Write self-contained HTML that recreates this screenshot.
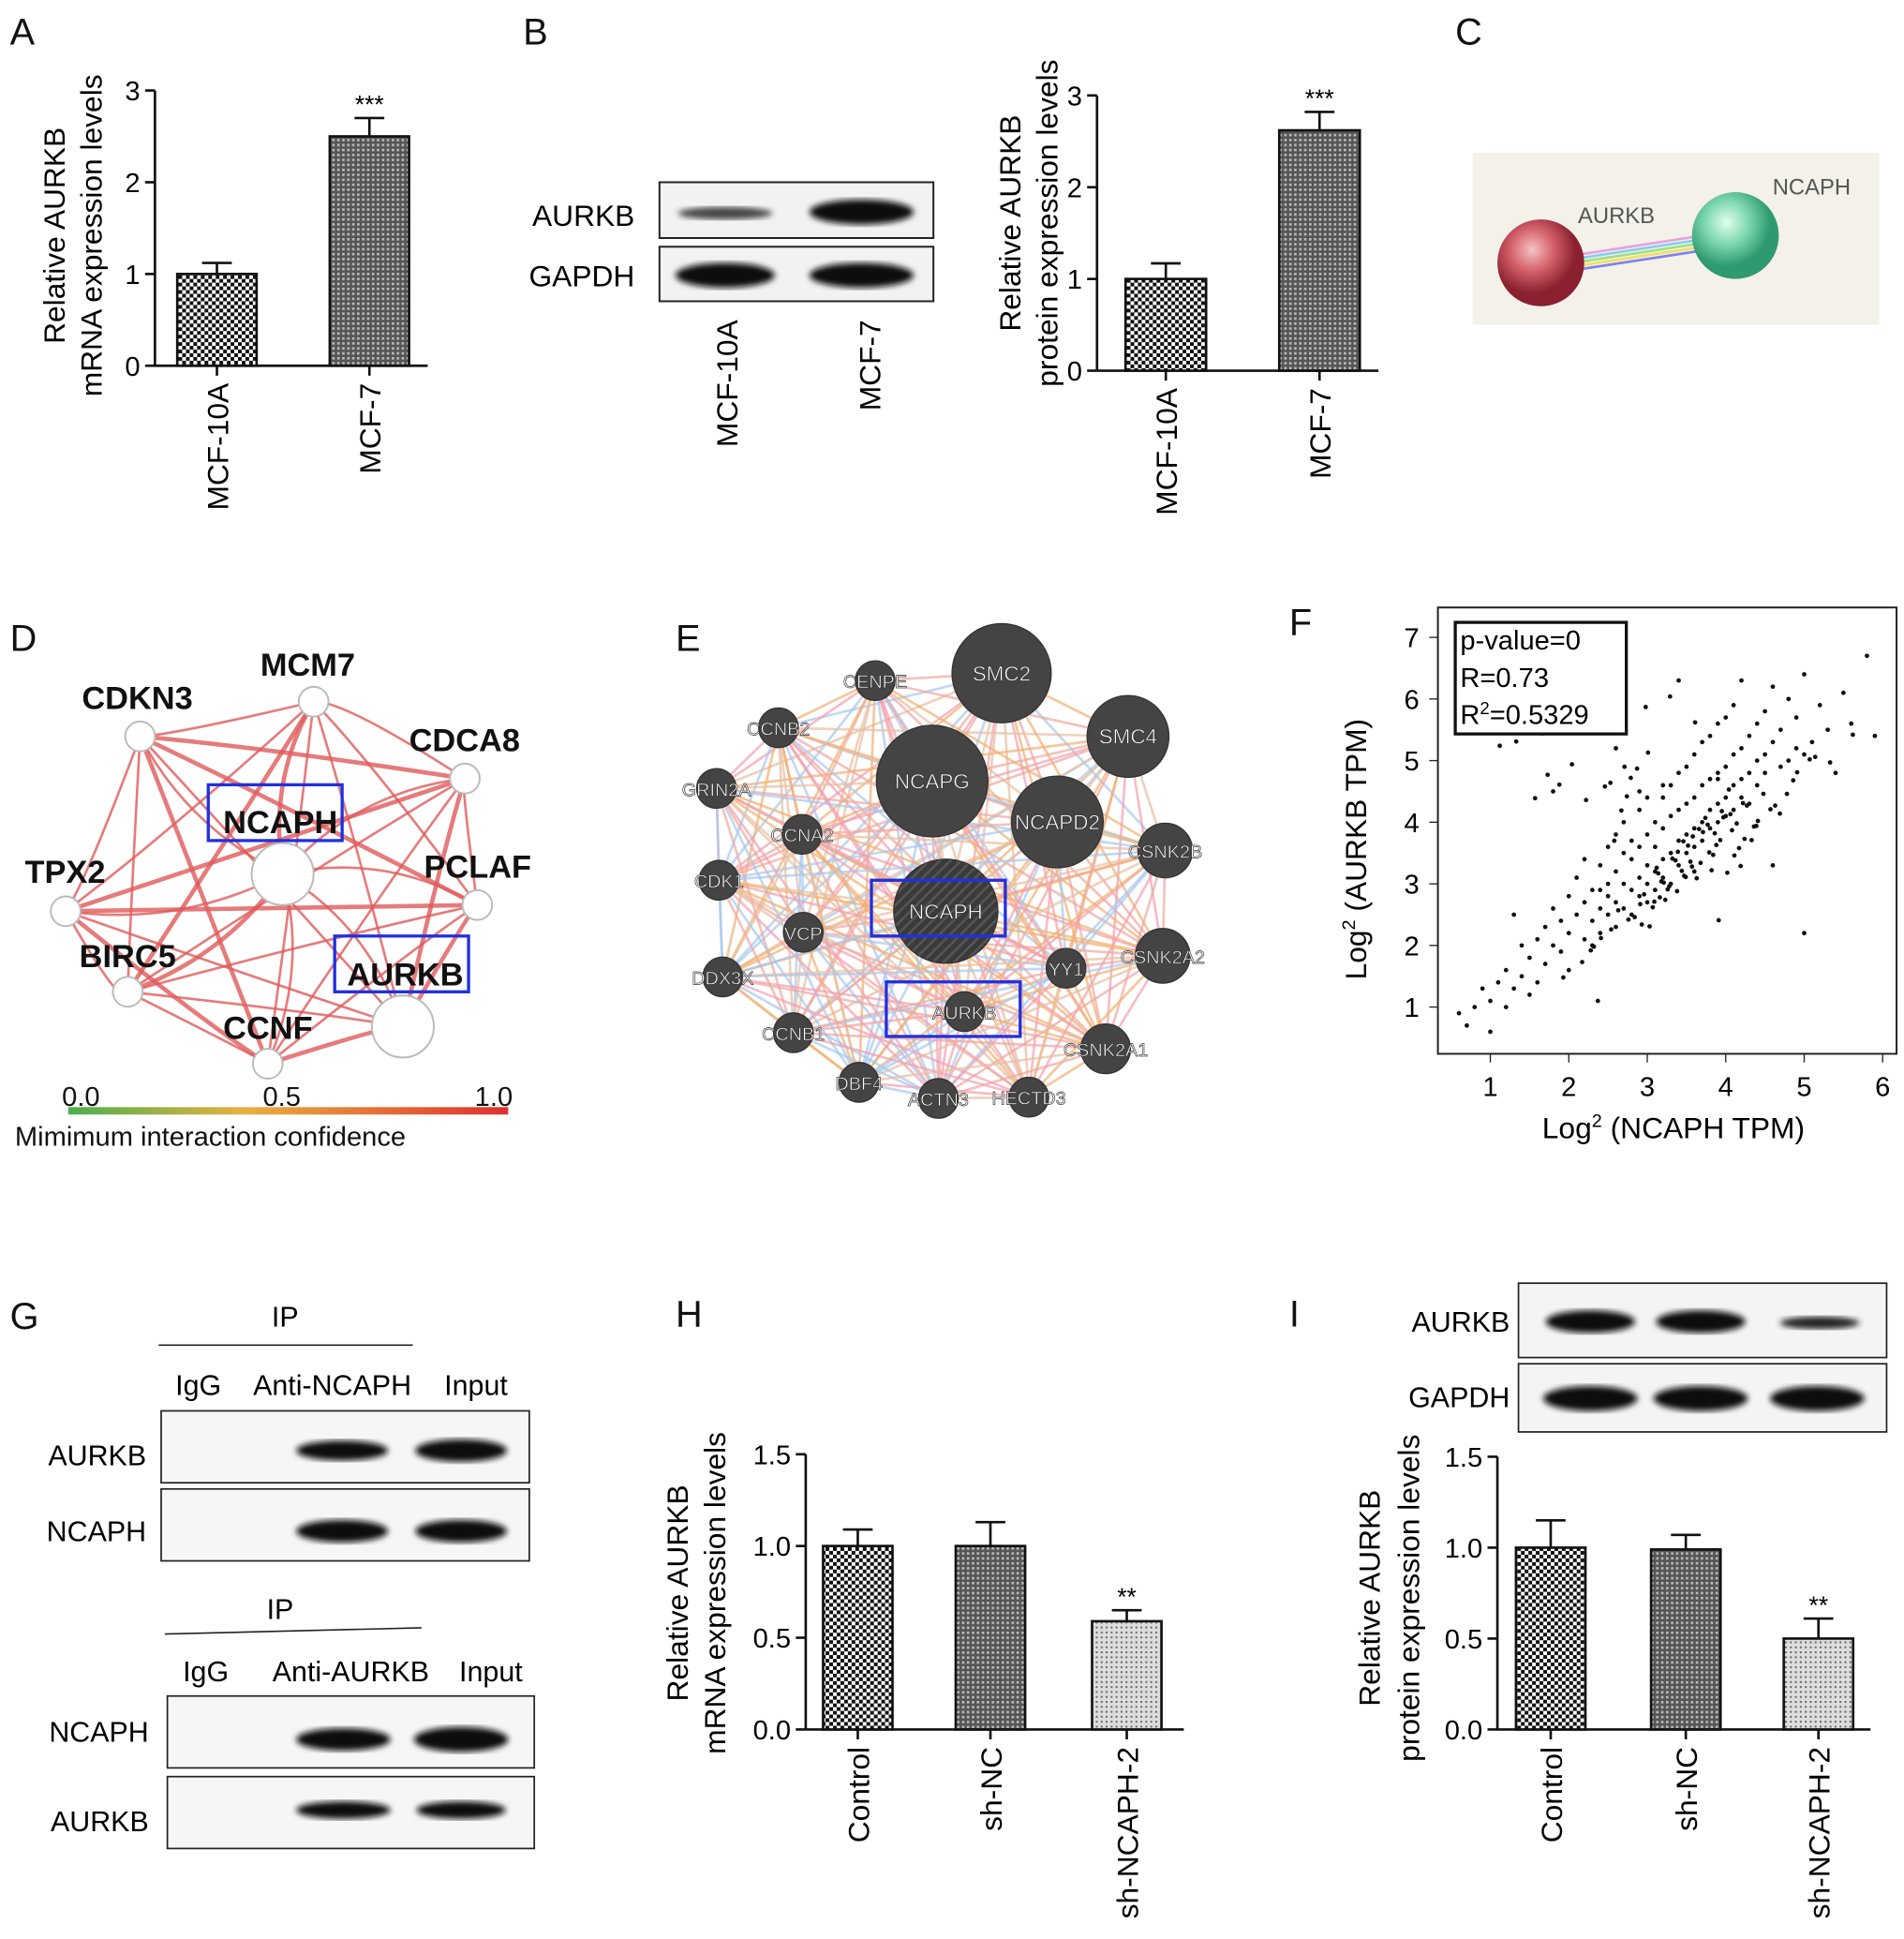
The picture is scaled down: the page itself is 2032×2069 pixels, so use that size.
<!DOCTYPE html>
<html><head><meta charset="utf-8"><style>
html,body{margin:0;padding:0;background:#fff;}
svg{display:block;font-family:"Liberation Sans",Arial,sans-serif;}
</style></head><body>
<svg id="fig" width="2032" height="2069" viewBox="0 0 1536 1564" xmlns="http://www.w3.org/2000/svg">
<defs>
<pattern id="chk" width="6" height="6" patternUnits="userSpaceOnUse"><rect width="6" height="6" fill="#fff"/><rect width="3" height="3" fill="#111"/><rect x="3" y="3" width="3" height="3" fill="#111"/></pattern>
<pattern id="dots" width="4" height="4" patternUnits="userSpaceOnUse"><rect width="4" height="4" fill="#555"/><rect width="2" height="2" fill="#bbb"/></pattern>
<pattern id="light" width="4" height="4" patternUnits="userSpaceOnUse"><rect width="4" height="4" fill="#ddd"/><rect width="1.5" height="1.5" fill="#666"/></pattern>
<pattern id="hatch" width="6" height="6" patternUnits="userSpaceOnUse" patternTransform="rotate(45)"><rect width="6" height="6" fill="#3a3a3a"/><rect width="2" height="6" fill="#555"/></pattern>
<radialGradient id="red" cx="0.4" cy="0.35"><stop offset="0" stop-color="#f4c4c4"/><stop offset="0.5" stop-color="#d4606a"/><stop offset="1" stop-color="#8a2030"/></radialGradient>
<radialGradient id="grn" cx="0.4" cy="0.35"><stop offset="0" stop-color="#e0fff0"/><stop offset="0.5" stop-color="#7fd8b0"/><stop offset="1" stop-color="#2f9a70"/></radialGradient>
<linearGradient id="cbar"><stop offset="0" stop-color="#4caf50"/><stop offset="0.4" stop-color="#e8b040"/><stop offset="1" stop-color="#e03030"/></linearGradient>
<filter id="blur"><feGaussianBlur stdDeviation="2.5"/></filter>
</defs>

<g font-size="30" fill="#111">
<text x="8" y="36">A</text>
<text x="422" y="36">B</text>
<text x="1174" y="36">C</text>
<text x="8" y="525">D</text>
<text x="545" y="525">E</text>
<text x="1040" y="512">F</text>
<text x="8" y="1072">G</text>
<text x="545" y="1070">H</text>
<text x="1040" y="1070">I</text>
</g>

<g>
<rect x="532" y="147" width="221" height="45" fill="#f2f2f2" stroke="#222" stroke-width="1.5"/>
<rect x="532" y="199" width="221" height="44" fill="#f2f2f2" stroke="#222" stroke-width="1.5"/>
<ellipse cx="585" cy="172" rx="38" ry="5" fill="#444" filter="url(#blur)"/>
<ellipse cx="695" cy="171" rx="42" ry="10" fill="#111" filter="url(#blur)"/>
<ellipse cx="585" cy="222" rx="40" ry="10" fill="#111" filter="url(#blur)"/>
<ellipse cx="695" cy="222" rx="42" ry="10" fill="#111" filter="url(#blur)"/>
<text x="512" y="182" font-size="24" text-anchor="end">AURKB</text>
<text x="512" y="231" font-size="24" text-anchor="end">GAPDH</text>
<text transform="translate(595,258) rotate(-90)" font-size="24" text-anchor="end">MCF-10A</text>
<text transform="translate(710,258) rotate(-90)" font-size="24" text-anchor="end">MCF-7</text>
</g>

<g>
<rect x="1188" y="123" width="328" height="139" fill="#f3f1e8"/>
<line x1="1243" y1="210" x2="1400" y2="186" stroke="#e8a0e0" stroke-width="2"/>
<line x1="1243" y1="213" x2="1400" y2="189" stroke="#80d0f0" stroke-width="2"/>
<line x1="1243" y1="216" x2="1400" y2="192" stroke="#a0e080" stroke-width="2"/>
<line x1="1243" y1="219" x2="1400" y2="195" stroke="#f0e060" stroke-width="2"/>
<line x1="1243" y1="222" x2="1400" y2="198" stroke="#8080f0" stroke-width="2"/>
<circle cx="1243" cy="212" r="35" fill="url(#red)"/>
<circle cx="1400" cy="190" r="35" fill="url(#grn)"/>
<text x="1273" y="180" font-size="18" fill="#555">AURKB</text>
<text x="1430" y="157" font-size="18" fill="#555">NCAPH</text>
</g>

<g id="charts"></g>

<g id="netD"></g>
<rect x="55" y="893" width="355" height="6" fill="url(#cbar)"/>
<g font-size="22" fill="#111">
<text x="50" y="892">0.0</text><text x="212" y="892">0.5</text><text x="383" y="892">1.0</text>
<text x="12" y="924">Mimimum interaction confidence</text>
</g>

<g id="netE"></g>

<g id="scatF"></g>

<g font-size="23">
<text x="230" y="1070" text-anchor="middle">IP</text>
<line x1="128" y1="1085" x2="333" y2="1085" stroke="#222" stroke-width="1.2"/>
<text x="160" y="1125" text-anchor="middle">IgG</text>
<text x="268" y="1125" text-anchor="middle">Anti-NCAPH</text>
<text x="384" y="1125" text-anchor="middle">Input</text>
<rect x="130" y="1138" width="297" height="58" fill="#f6f6f6" stroke="#222" stroke-width="1.3"/>
<rect x="130" y="1201" width="297" height="58" fill="#f6f6f6" stroke="#222" stroke-width="1.3"/>
<ellipse cx="276" cy="1170" rx="37" ry="8" fill="#111" filter="url(#blur)"/>
<ellipse cx="372" cy="1170" rx="37" ry="9" fill="#111" filter="url(#blur)"/>
<ellipse cx="276" cy="1235" rx="37" ry="9" fill="#111" filter="url(#blur)"/>
<ellipse cx="372" cy="1235" rx="37" ry="9" fill="#111" filter="url(#blur)"/>
<text x="118" y="1182" text-anchor="end">AURKB</text>
<text x="118" y="1243" text-anchor="end">NCAPH</text>
<text x="226" y="1306" text-anchor="middle">IP</text>
<line x1="133" y1="1318" x2="340" y2="1313" stroke="#222" stroke-width="1.2"/>
<text x="166" y="1356" text-anchor="middle">IgG</text>
<text x="283" y="1356" text-anchor="middle">Anti-AURKB</text>
<text x="396" y="1356" text-anchor="middle">Input</text>
<rect x="135" y="1368" width="296" height="58" fill="#f6f6f6" stroke="#222" stroke-width="1.3"/>
<rect x="135" y="1433" width="296" height="58" fill="#f6f6f6" stroke="#222" stroke-width="1.3"/>
<ellipse cx="277" cy="1403" rx="38" ry="9" fill="#111" filter="url(#blur)"/>
<ellipse cx="372" cy="1403" rx="38" ry="10" fill="#111" filter="url(#blur)"/>
<ellipse cx="277" cy="1460" rx="38" ry="7" fill="#111" filter="url(#blur)"/>
<ellipse cx="372" cy="1460" rx="36" ry="7" fill="#111" filter="url(#blur)"/>
<text x="120" y="1405" text-anchor="end">NCAPH</text>
<text x="120" y="1477" text-anchor="end">AURKB</text>
</g>

<g font-size="23">
<rect x="1225" y="1035" width="297" height="60" fill="#f4f4f4" stroke="#222" stroke-width="1.3"/>
<rect x="1225" y="1100" width="297" height="55" fill="#f4f4f4" stroke="#222" stroke-width="1.3"/>
<ellipse cx="1283" cy="1066" rx="36" ry="9" fill="#111" filter="url(#blur)"/>
<ellipse cx="1372" cy="1066" rx="36" ry="9" fill="#111" filter="url(#blur)"/>
<ellipse cx="1468" cy="1067" rx="32" ry="5" fill="#222" filter="url(#blur)"/>
<ellipse cx="1283" cy="1128" rx="38" ry="10" fill="#111" filter="url(#blur)"/>
<ellipse cx="1372" cy="1128" rx="38" ry="10" fill="#111" filter="url(#blur)"/>
<ellipse cx="1466" cy="1128" rx="38" ry="10" fill="#111" filter="url(#blur)"/>
<text x="1218" y="1074" text-anchor="end">AURKB</text>
<text x="1218" y="1135" text-anchor="end">GAPDH</text>
</g>
</svg>

<script>
const NS="http://www.w3.org/2000/svg";
function mk(tag,attrs,parent,txt){const e=document.createElementNS(NS,tag);for(const k in attrs)e.setAttribute(k,attrs[k]);if(txt!==undefined)e.textContent=txt;parent.appendChild(e);return e;}

const aCats=["MCF-10A","MCF-7"];
const aVals=[1.0,2.5];
const aErr=[0.12,0.2];
const aSig=["","***"];
const aTicks=["0","1","2","3"];

const bCats=["MCF-10A","MCF-7"];
const bVals=[1.0,2.62];
const bErr=[0.17,0.2];
const bSig=["","***"];
const bTicks=["0","1","2","3"];

const hCats=["Control","sh-NC","sh-NCAPH-2"];
const hVals=[1.0,1.0,0.59];
const hErr=[0.09,0.13,0.06];
const hSig=["","","**"];
const hTicks=["0.0","0.5","1.0","1.5"];

const iCats=["Control","sh-NC","sh-NCAPH-2"];
const iVals=[1.0,0.99,0.5];
const iErr=[0.15,0.08,0.11];
const iSig=["","","**"];
const iTicks=["0.0","0.5","1.0","1.5"];

const charts=document.getElementById('charts');
function barChart(o){
  const g=mk('g',{},charts);
  
  
  const ymax=parseFloat(o.ticks[o.ticks.length-1]);
  const Y=v=>o.y0-(o.y0-o.y1)*v/ymax;
  mk('line',{x1:o.ax,y1:o.y1,x2:o.ax,y2:o.y0,stroke:'#111','stroke-width':2},g);
  mk('line',{x1:o.ax,y1:o.y0,x2:o.xe,y2:o.y0,stroke:'#111','stroke-width':2},g);
  o.ticks.forEach(t=>{const y=Y(parseFloat(t));
    mk('line',{x1:o.ax-8,y1:y,x2:o.ax,y2:y,stroke:'#111','stroke-width':2},g);
    const tx=mk('text',{x:o.ax-12,y:y+8,'font-size':o.tfs||22,'text-anchor':'end'},g,t);
    
    
  });
  o.cats.forEach((c,i)=>{
    const x=o.bx[i],w=o.bw,v=o.vals[i];
    const r=mk('rect',{x:x,y:Y(v),width:w,height:o.y0-Y(v),fill:'url(#'+o.fills[i]+')',stroke:'#111','stroke-width':2},g);
    
    
    const cx=x+w/2,ye=Y(v+o.err[i]);
    mk('line',{x1:cx,y1:Y(v),x2:cx,y2:ye,stroke:'#111','stroke-width':2},g);
    mk('line',{x1:cx-12,y1:ye,x2:cx+12,y2:ye,stroke:'#111','stroke-width':2},g);
    mk('line',{x1:cx,y1:o.y0,x2:cx,y2:o.y0+8,stroke:'#111','stroke-width':2},g);
    if(o.sig[i]) mk('text',{x:cx,y:ye-4,'font-size':20,'text-anchor':'middle'},g,o.sig[i]);
    const lt=mk('text',{transform:'translate('+(cx+9)+','+(o.y0+14)+') rotate(-90)','font-size':24,'text-anchor':'end'},g,c);
    
    
  });
  o.ylab.forEach((l,k)=>{
    const t=mk('text',{transform:'translate('+(o.lx+k*(o.lsp||30))+','+o.ly+') rotate(-90)','font-size':o.lfs||24,'text-anchor':'middle'},g,l);
    
    
  });
}
barChart({name:'bar-chart-a',cats:aCats,vals:aVals,err:aErr,sig:aSig,ticks:aTicks,ax:125,y0:295,y1:73,xe:345,bx:[143,266],bw:64,fills:['chk','dots'],ylab:['Relative AURKB','mRNA expression levels'],lx:52,ly:190});
barChart({name:'bar-chart-b',cats:bCats,vals:bVals,err:bErr,sig:bSig,ticks:bTicks,ax:885,y0:299,y1:77,xe:1112,bx:[908,1032],bw:65,fills:['chk','dots'],ylab:['Relative AURKB','protein expression levels'],lx:823,ly:180});
barChart({name:'bar-chart-h',cats:hCats,vals:hVals,err:hErr,sig:hSig,ticks:hTicks,ax:650,y0:1395,y1:1173,xe:955,bx:[664,771,881],bw:56,fills:['chk','dots','light'],ylab:['Relative AURKB','mRNA expression levels'],lx:555,ly:1285});
barChart({name:'bar-chart-i',cats:iCats,vals:iVals,err:iErr,sig:iSig,ticks:iTicks,ax:1208,y0:1395,y1:1175,xe:1509,bx:[1223,1332,1439],bw:56,fills:['chk','dots','light'],ylab:['Relative AURKB','protein expression levels'],lx:1113,ly:1289,lsp:32});

const dNames=["MCM7","CDKN3","CDCA8","NCAPH","TPX2","PCLAF","BIRC5","AURKB","CCNF"];
const dX=[253,113,375,228,53,385,103,325,216];
const dY=[566,594,628,705,735,730,800,828,858];
const dR=[12,12,12,25,12,12,12,25,12];
(function(){
  const g=document.getElementById('netD');
  for(let i=0;i<dNames.length;i++)for(let j=i+1;j<dNames.length;j++){
    const mx=(dX[i]+dX[j])/2,my=(dY[i]+dY[j])/2;
    const cx=mx+(my-705)*0.35,cy=my-(mx-220)*0.35;
    mk('path',{d:`M${dX[i]},${dY[i]} Q${cx},${cy} ${dX[j]},${dY[j]}`,fill:'none',stroke:'#e05a5a','stroke-width':(i+j)%3?2:3.5,opacity:0.8},g);
  }
  dNames.forEach((n,i)=>{
    const c=mk('circle',{cx:dX[i],cy:dY[i],r:dR[i],fill:'#fff',stroke:'#bbb','stroke-width':1.5},g);
    
    
  });
  const lab=[[210,545],[66,572],[330,606],[180,672],[20,712],[342,708],[64,780],[280,795],[180,838]];
  dNames.forEach((n,i)=>mk('text',{x:lab[i][0],y:lab[i][1],'font-size':26,'font-weight':'bold',fill:'#111'},g,n));
  mk('rect',{x:168,y:633,width:108,height:45,fill:'none',stroke:'#2030e0','stroke-width':2.5},g);
  mk('rect',{x:270,y:755,width:108,height:45,fill:'none',stroke:'#2030e0','stroke-width':2.5},g);
})();

const eNames=["SMC2","CENPE","SMC4","CCNB2","NCAPG","GRIN2A","NCAPD2","CCNA2","CSNK2B","CDK1","NCAPH","VCP","CSNK2A2","DDX3X","YY1","AURKB","CCNB1","CSNK2A1","DBF4","ACTN3","HECTD3"];
const eX=[808,706,910,628,752,578,853,647,940,580,763,648,938,583,860,778,640,892,693,757,830];
const eY=[543,549,594,587,630,636,663,673,686,710,735,752,771,788,781,816,833,846,873,886,885];
const eR=[40,16,33,16,45,16,37,16,22,16,42,16,22,16,16,16,16,20,16,16,16];
(function(){
  const g=document.getElementById('netE');
  const cols=['#f0a8a0','#f2b070','#a8c8f0','#f4a0b0','#e8c0a0'];
  let k=0;
  for(let i=0;i<eNames.length;i++)for(let j=i+1;j<eNames.length;j++){
    mk('line',{x1:eX[i],y1:eY[i],x2:eX[j],y2:eY[j],stroke:cols[k++%5],'stroke-width':2,opacity:0.7},g);
  }
  eNames.forEach((n,i)=>{
    const c=mk('circle',{cx:eX[i],cy:eY[i],r:eR[i],fill:n==="NCAPH"?'url(#hatch)':'#444',stroke:'#333'},g);
    
    
    mk('text',{x:eX[i],y:eY[i]+6,'font-size':eR[i]>30?17:15,'text-anchor':'middle',fill:'#fff',stroke:'#333','stroke-width':0.5},g,n);
  });
  mk('rect',{x:703,y:710,width:108,height:45,fill:'none',stroke:'#2030e0','stroke-width':2.5},g);
  mk('rect',{x:715,y:792,width:108,height:44,fill:'none',stroke:'#2030e0','stroke-width':2.5},g);
})();

const fXTicks=[1,2,3,4,5,6];
const fYTicks=[1,2,3,4,5,6,7];
const fXs=[0.6,0.7,0.8,0.9,1.0,1.0,1.1,1.2,1.2,1.3,1.4,1.4,1.5,1.5,1.6,1.6,1.7,1.7,1.8,1.8,1.9,1.9,2.0,2.0,2.0,2.1,2.1,2.2,2.2,2.2,2.3,2.3,2.3,2.4,2.4,2.4,2.5,2.5,2.5,2.5,2.6,2.6,2.6,2.6,2.7,2.7,2.7,2.7,2.8,2.8,2.8,2.8,2.9,2.9,2.9,2.9,3.0,3.0,3.0,3.0,3.0,3.1,3.1,3.1,3.1,3.2,3.2,3.2,3.2,3.3,3.3,3.3,3.3,3.4,3.4,3.4,3.4,3.5,3.5,3.5,3.5,3.6,3.6,3.6,3.6,3.7,3.7,3.7,3.7,3.8,3.8,3.8,3.8,3.9,3.9,3.9,3.9,4.0,4.0,4.0,4.0,4.1,4.1,4.1,4.1,4.2,4.2,4.2,4.3,4.3,4.3,4.4,4.4,4.4,4.5,4.5,4.5,4.6,4.6,4.7,4.7,4.8,4.8,4.9,4.9,5.0,5.0,5.1,5.2,5.3,5.4,5.5,5.6,5.8,5.9,2.0,2.6,3.4,3.9,4.6,1.3,2.9,3.6,4.2,5.0,1.8,2.4,3.2,
 2.13,2.37,2.58,2.71,2.84,2.96,3.07,3.14,3.23,3.36,3.44,3.52,3.63,3.71,3.84,3.93,4.06,4.17,4.27,4.36,2.22,2.46,2.67,2.79,2.91,3.03,3.18,3.28,3.39,3.47,3.58,3.68,3.77,3.88,3.97,4.08,4.22,4.33,4.48,4.57,2.53,2.74,2.87,3.01,3.12,3.26,3.32,3.46,3.55,3.66,3.74,3.86,3.95,4.04,4.14,1.57,1.73,1.88,2.04,2.28,2.41,2.63,2.93,3.09,3.21,3.38,3.57,3.79,4.02,4.24,4.41,4.63,4.78,4.91,5.07,1.12,1.33,1.48,1.66,1.93,2.17,2.32,2.54,2.76,3.16,3.49,3.82,4.11,4.39,4.69,4.86,5.14,5.33,5.62,2.69,2.98,3.29,3.61,3.91,4.19];
const fYs=[0.9,0.7,1.0,1.3,1.1,0.6,1.4,1.0,1.6,1.3,1.5,2.0,1.2,1.8,2.1,1.4,1.7,2.3,2.0,2.6,1.9,2.4,2.2,2.8,1.6,2.5,3.1,2.1,2.7,3.4,2.4,2.9,2.0,2.6,3.3,2.2,2.5,3.0,3.6,2.8,2.7,3.2,3.8,2.3,3.0,3.5,2.6,4.0,2.9,3.4,3.7,2.5,3.1,3.6,4.2,2.8,3.0,3.3,3.8,2.7,4.4,3.2,3.6,4.0,2.9,3.4,3.9,4.4,3.1,3.5,4.1,3.0,4.6,3.7,4.2,3.3,4.8,3.8,4.3,3.5,4.9,3.9,4.4,3.6,5.1,4.0,4.6,3.7,5.3,4.2,4.7,3.9,5.4,4.3,4.8,4.0,5.6,4.4,4.9,4.1,5.7,4.6,5.1,4.2,5.9,4.7,5.2,4.4,4.8,5.4,4.3,5.0,5.6,4.6,5.1,5.8,4.8,5.3,6.2,4.9,5.5,5.0,6.0,5.2,5.7,5.1,6.4,5.3,5.9,5.5,4.8,6.1,5.6,6.7,5.4,6.0,5.2,6.3,4.7,3.3,2.5,4.5,3.2,6.3,2.2,4.5,2.9,4.6,6.6,1.1,3.7,4.9,
 2.46,2.83,2.62,3.17,2.74,3.38,3.21,3.62,3.09,3.84,3.47,3.71,4.13,3.58,4.27,3.93,4.36,4.58,4.19,4.72,2.67,2.31,3.04,2.96,3.52,3.13,3.77,3.34,3.96,3.63,4.08,3.87,4.31,3.71,4.46,4.21,4.64,4.42,4.87,5.13,3.26,2.91,3.41,3.69,3.36,3.89,4.07,3.82,4.18,4.53,3.98,4.39,4.77,4.61,4.94,1.92,2.12,2.57,2.34,2.71,3.02,2.88,3.28,3.51,3.18,3.73,4.02,4.27,4.46,4.81,5.02,5.24,5.31,5.58,5.44,1.48,1.73,1.98,2.26,2.42,2.78,3.11,3.22,3.46,3.94,4.14,4.68,5.06,4.97,5.42,5.76,5.87,6.04,5.62,2.41,3.29,3.57,4.19,4.58,5.12];
(function(){
  const g=document.getElementById('scatF');
  const X=v=>1139+63.3*v, Y=v=>862-49.7*v;
  mk('rect',{x:1160,y:490,width:370,height:360,fill:'none',stroke:'#222','stroke-width':1.5},g);
  fXTicks.forEach(t=>{mk('line',{x1:X(t),y1:850,x2:X(t),y2:857,stroke:'#222'},g);mk('text',{x:X(t),y:884,'font-size':22,'text-anchor':'middle'},g,t);});
  fYTicks.forEach(t=>{mk('line',{x1:1153,y1:Y(t),x2:1160,y2:Y(t),stroke:'#222'},g);mk('text',{x:1145,y:Y(t)+8,'font-size':22,'text-anchor':'end'},g,t);});
  fXs.forEach((x,i)=>{const c=mk('circle',{cx:X(x),cy:Y(fYs[i]),r:1.8,fill:'#111'},g);
    
    });
  mk('rect',{x:1174,y:502,width:138,height:90,fill:'#fff',stroke:'#111','stroke-width':2.5},g);
  mk('text',{x:1178,y:524,'font-size':22},g,'p-value=0');
  mk('text',{x:1178,y:554,'font-size':22},g,'R=0.73');
  const t=mk('text',{x:1178,y:584,'font-size':22},g,'R');
  mk('tspan',{dy:-8,'font-size':14},t,'2');mk('tspan',{dy:8},t,'=0.5329');
  const xl=mk('text',{x:1350,y:918,'font-size':24,'text-anchor':'middle'},g,'Log');
  mk('tspan',{dy:-9,'font-size':15},xl,'2');mk('tspan',{dy:9},xl,' (NCAPH TPM)');
  const yl=mk('text',{transform:'translate(1102,685) rotate(-90)','font-size':24,'text-anchor':'middle'},g,'Log');
  mk('tspan',{dy:-9,'font-size':15},yl,'2');mk('tspan',{dy:9},yl,' (AURKB TPM)');
})();
</script>
</body></html>
